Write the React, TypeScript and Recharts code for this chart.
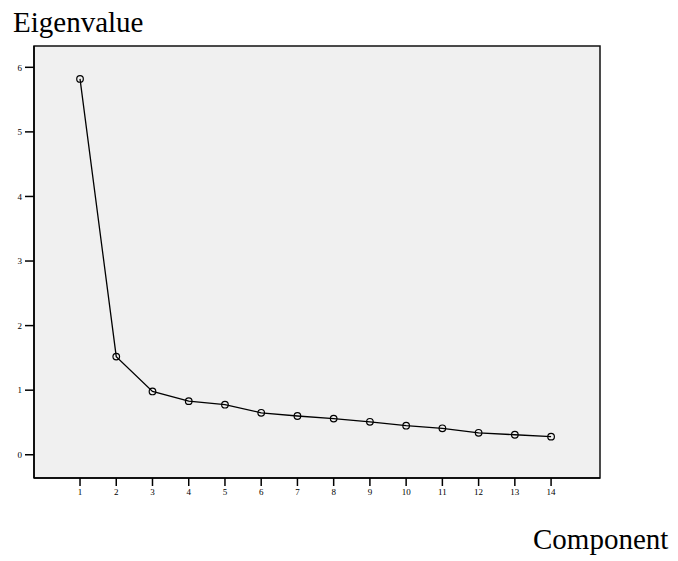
import { LineChart, Line, XAxis, YAxis, CartesianGrid, ReferenceArea } from 'recharts';

const components = [1, 2, 3, 4, 5, 6, 7, 8, 9, 10, 11, 12, 13, 14];
const eigenvalues = [5.82, 1.52, 0.98, 0.83, 0.775, 0.65, 0.6, 0.56, 0.51, 0.45, 0.41, 0.34, 0.31, 0.28];
const yTicks = [0, 1, 2, 3, 4, 5, 6];

const serif = '"Liberation Serif", "Times New Roman", serif';

const data = components.map((c, i) => ({ component: c, eigenvalue: eigenvalues[i] }));

export default function App() {
  return (
    <div style={{ position: 'absolute', left: 0, top: 0, width: 678, height: 561, background: '#fff' }}>
      <div style={{ position: 'absolute', left: 13, top: 8, fontFamily: serif, fontSize: 29, lineHeight: 1, color: '#000' }}>
        Eigenvalue
      </div>
      <div style={{ position: 'absolute', left: 533, top: 525, fontFamily: serif, fontSize: 29, lineHeight: 1, color: '#000' }}>
        Component
      </div>
      <LineChart width={678} height={561} data={data} margin={{ top: 46, right: 78, bottom: 53, left: 0 }}>
        <CartesianGrid horizontal={false} vertical={false} fill="#f0f0f0" />
        <ReferenceArea x1={-0.27} x2={15.35} y1={-0.36} y2={6.33} fill="none" stroke="#111" strokeWidth={1.5} />
        <XAxis
          dataKey="component"
          type="number"
          height={30}
          domain={[-0.27, 15.35]}
          ticks={components}
          allowDataOverflow
          tickSize={8}
          tickMargin={3}
          axisLine={{ stroke: '#000', strokeWidth: 1.5 }}
          tickLine={{ stroke: '#000', strokeWidth: 1.5 }}
          tick={{ fill: '#000', fontSize: 9, fontFamily: serif }}
          interval={0}
        />
        <YAxis
          type="number"
          width={34}
          domain={[-0.36, 6.33]}
          ticks={yTicks}
          allowDataOverflow
          tickSize={9}
          tickMargin={3}
          axisLine={{ stroke: '#000', strokeWidth: 1.5 }}
          tickLine={{ stroke: '#000', strokeWidth: 1.5 }}
          tick={{ fill: '#000', fontSize: 9, fontFamily: serif }}
          interval={0}
        />
        <Line
          dataKey="eigenvalue"
          stroke="#000"
          strokeWidth={1.3}
          dot={{ r: 3.3, stroke: '#000', strokeWidth: 1.2, fill: 'none' }}
          isAnimationActive={false}
        />
      </LineChart>
    </div>
  );
}
